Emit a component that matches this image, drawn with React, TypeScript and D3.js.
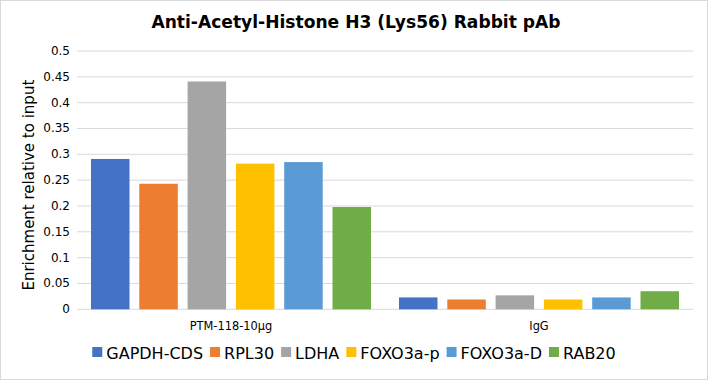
import React from "react";
import * as d3 from "d3";

const categories = ["PTM-118-10μg", "IgG"];
const seriesNames = ["GAPDH-CDS", "RPL30", "LDHA", "FOXO3a-p", "FOXO3a-D", "RAB20"];
const seriesColors = ["#4472C4", "#ED7D31", "#A5A5A5", "#FFC000", "#5B9BD5", "#70AD47"];
const ptmValues = [0.291, 0.243, 0.441, 0.282, 0.285, 0.198];
const iggValues = [0.023, 0.019, 0.027, 0.019, 0.023, 0.035];
const yTicks = [0, 0.05, 0.1, 0.15, 0.2, 0.25, 0.3, 0.35, 0.4, 0.45, 0.5];
const title = "Anti-Acetyl-Histone H3 (Lys56) Rabbit pAb";
const yLabel = "Enrichment relative to input";

const W = 708, H = 380;
const plot = { left: 77, right: 693, top: 51, bottom: 309.3 };
const FONT = "Verdana, 'DejaVu Sans', sans-serif";

export default function App() {
  const values = [ptmValues, iggValues];
  const x = d3.scaleBand<string>().domain(categories).range([plot.left, plot.right]).padding(0);
  const y = d3.scaleLinear().domain([0, 0.5]).range([plot.bottom, plot.top]);
  const barW = 38.5;
  const step = 48.3;
  const groupW = step * (seriesNames.length - 1) + barW;

  const legendFont = 16;
  const legendY = 357;

  return (
    <svg width={W} height={H} style={{ position: "absolute", left: 0, top: 0 }} fontFamily={FONT}>
      <rect x={0.5} y={0.5} width={W - 1} height={H - 1} fill="#fff" stroke="#d9d9d9" />
      <text x={356} y={28} textAnchor="middle" fontSize={17.1} fontWeight="bold" fill="#000">
        {title}
      </text>
      {yTicks.map((t) => (
        <g key={t}>
          <line x1={plot.left} x2={plot.right} y1={y(t)} y2={y(t)} stroke="#d9d9d9" strokeWidth={1} />
          <text x={70} y={y(t) + 4} textAnchor="end" fontSize={12} fill="#000">
            {d3.format("")(t)}
          </text>
        </g>
      ))}
      <text
        transform={`translate(34,${(plot.top + plot.bottom) / 2 + 5}) rotate(-90)`}
        textAnchor="middle"
        fontSize={15}
        fill="#000"
      >
        {yLabel}
      </text>
      {categories.map((c, ci) => {
        const cx = (x(c) as number) + x.bandwidth() / 2;
        const start = cx - groupW / 2;
        return (
          <g key={c}>
            {values[ci].map((v, si) => (
              <rect
                key={si}
                x={start + si * step}
                y={y(v)}
                width={barW}
                height={y(0) - y(v)}
                fill={seriesColors[si]}
              />
            ))}
            <text x={cx} y={330} textAnchor="middle" fontSize={11.4} fill="#000">
              {c}
            </text>
          </g>
        );
      })}
      <Legend y={legendY} fontSize={legendFont} />
    </svg>
  );
}

function Legend({ y, fontSize }: { y: number; fontSize: number }) {
  const ref = React.useRef<SVGGElement>(null);
  React.useEffect(() => {
    const g = d3.select(ref.current);
    g.selectAll("*").remove();
    const items = g
      .selectAll("g.item")
      .data(seriesNames)
      .enter()
      .append("g")
      .attr("class", "item");
    items
      .append("rect")
      .attr("width", 10)
      .attr("height", 10)
      .attr("y", -10)
      .attr("fill", (_d, i) => seriesColors[i]);
    items
      .append("text")
      .attr("x", 14)
      .attr("y", 0)
      .attr("font-size", fontSize)
      .attr("dy", "0.12em")
      .text((d) => d);
    let xPos = 0;
    items.each(function () {
      const node = this as SVGGElement;
      const w = node.getBBox().width;
      d3.select(node).attr("transform", `translate(${xPos},0)`);
      xPos += w + 7;
    });
    const total = xPos - 7;
    g.attr("transform", `translate(${354 - total / 2},${y})`);
  }, [y, fontSize]);
  return <g ref={ref} />;
}
